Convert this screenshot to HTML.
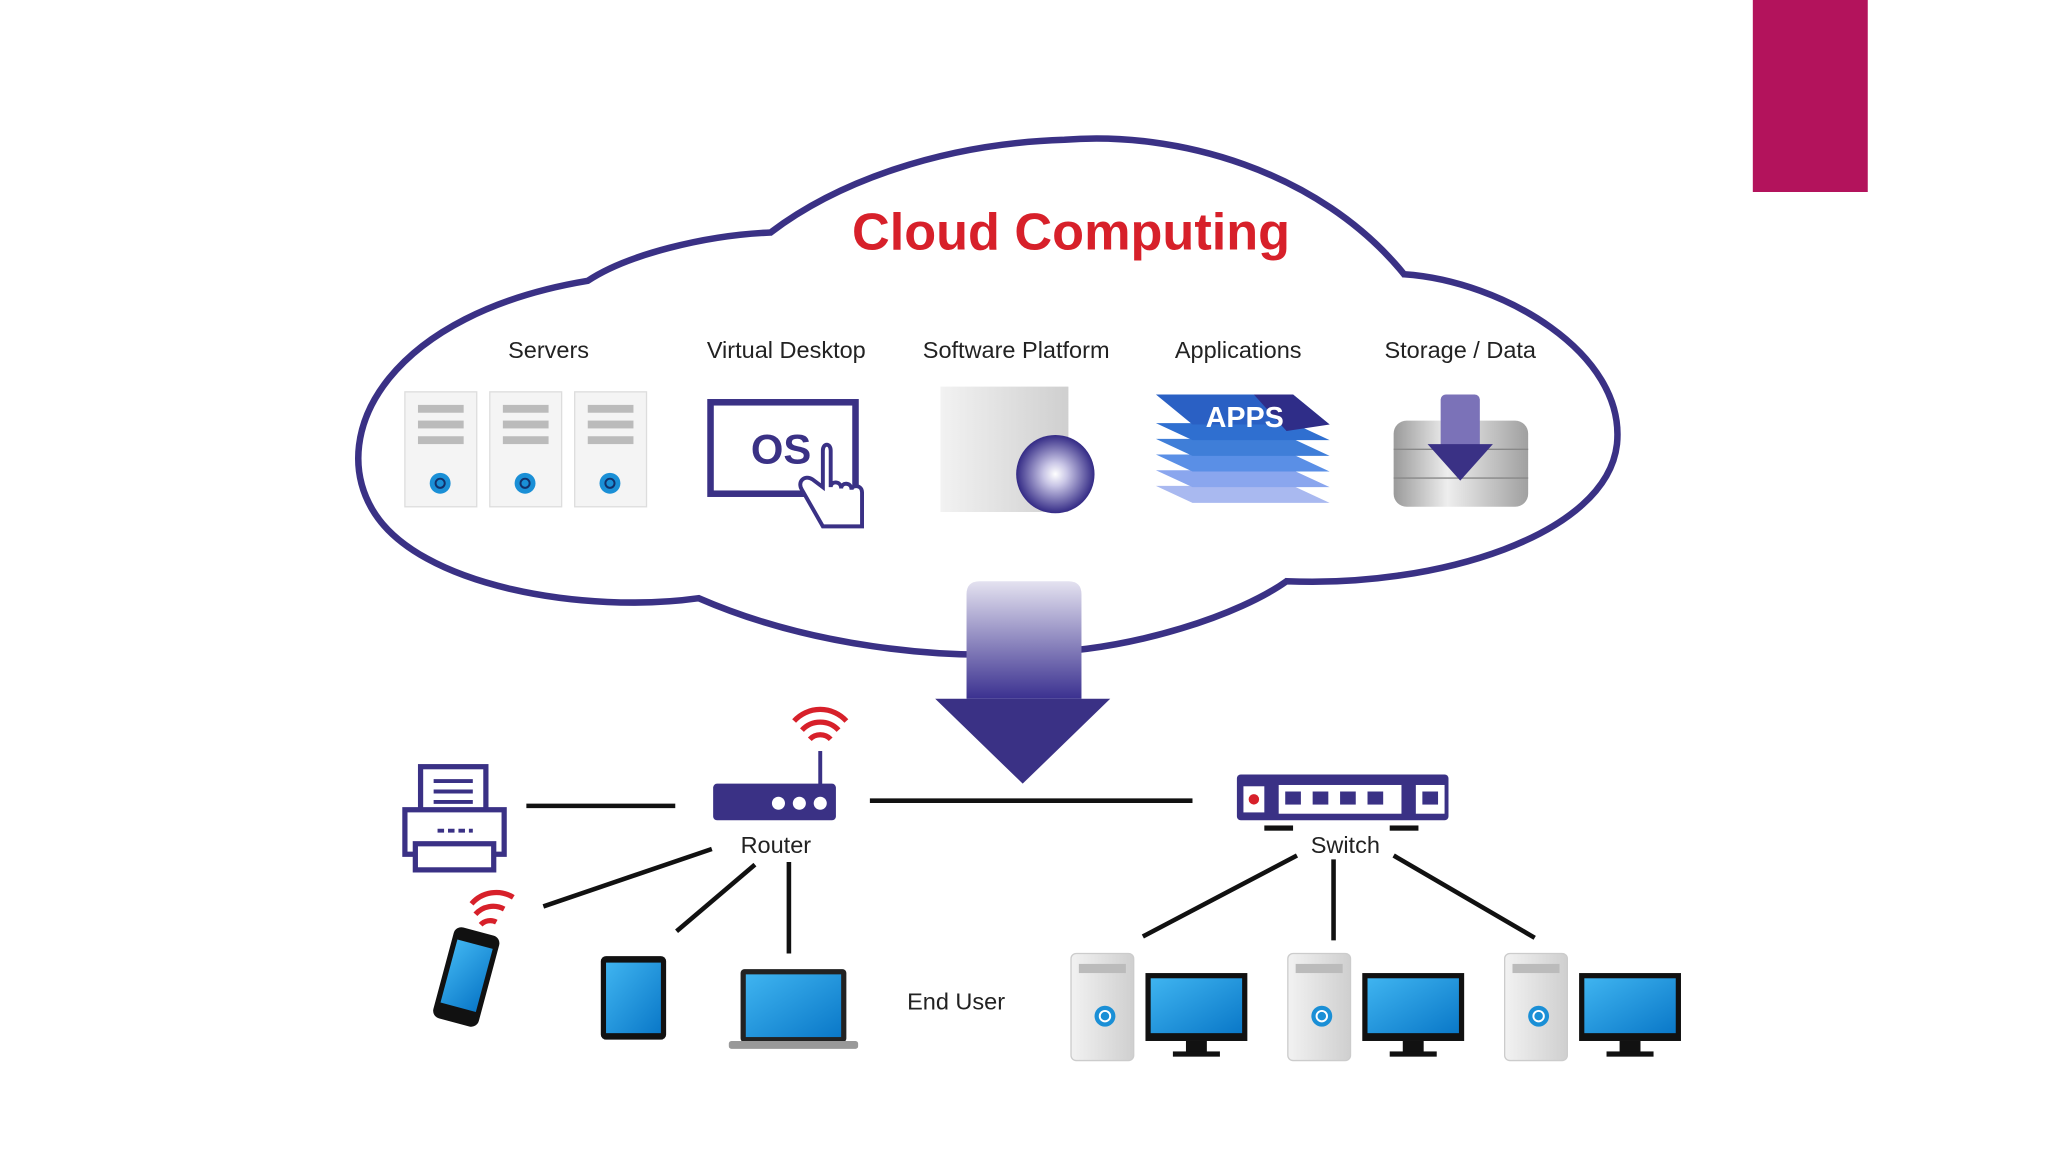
<!DOCTYPE html>
<html><head><meta charset="utf-8"><style>
html,body{margin:0;padding:0;background:#fff;width:2048px;height:1152px;overflow:hidden}
svg{display:block}
text{font-family:"Liberation Sans",sans-serif}
</style></head><body>
<svg width="2048" height="1152" viewBox="0 0 1568 882" xmlns="http://www.w3.org/2000/svg">
<defs>
<linearGradient id="ag" x1="0" y1="0" x2="0" y2="1"><stop offset="0" stop-color="#e4e2f0"/><stop offset="1" stop-color="#3b3190"/></linearGradient>
<linearGradient id="gb" x1="0" y1="0" x2="1" y2="0"><stop offset="0" stop-color="#f2f2f2"/><stop offset="1" stop-color="#cfcfcf"/></linearGradient>
<linearGradient id="cy" x1="0" y1="0" x2="1" y2="0"><stop offset="0" stop-color="#9a9a9a"/><stop offset=".4" stop-color="#eeeeee"/><stop offset="1" stop-color="#a0a0a0"/></linearGradient>
<radialGradient id="disc"><stop offset="0" stop-color="#fff"/><stop offset=".3" stop-color="#c9c6e6"/><stop offset="1" stop-color="#332a85"/></radialGradient>
<linearGradient id="scr" x1="0" y1="0" x2="1" y2="1"><stop offset="0" stop-color="#3fb4f0"/><stop offset="1" stop-color="#0a78c8"/></linearGradient>
<g id="pc">
<rect x="0" y="0" width="48" height="82" rx="4" fill="url(#gb)" stroke="#ccc"/>
<rect x="6" y="8" width="36" height="7" fill="#bbb"/>
<circle cx="26" cy="48" r="8" fill="#1a8fd6"/><circle cx="26" cy="48" r="4" fill="none" stroke="#fff" stroke-width="1.5"/>
<rect x="57" y="15" width="78" height="52" fill="#111"/>
<rect x="61" y="19" width="70" height="42" fill="url(#scr)"/>
<rect x="88" y="67" width="16" height="9" fill="#111"/><rect x="78" y="75" width="36" height="4" fill="#111"/>
</g>
<g id="srv">
<rect x="0" y="0" width="55" height="88" fill="#f4f4f4" stroke="#ddd"/>
<rect x="10" y="10" width="35" height="6" fill="#bbb"/><rect x="10" y="22" width="35" height="6" fill="#bbb"/><rect x="10" y="34" width="35" height="6" fill="#bbb"/>
<circle cx="27" cy="70" r="8" fill="#1a8fd6"/><circle cx="27" cy="70" r="3.5" fill="none" stroke="#12306a" stroke-width="1.5"/>
</g>
</defs>
<rect x="1342" y="0" width="88" height="147" fill="#b3135c"/>
<path d="M450,215 C300,240 250,330 285,390 C320,450 450,470 535,458 C620,495 720,505 790,500 C870,498 950,470 985,445 C1100,450 1230,410 1238,340 C1245,270 1150,215 1075,210 C1010,130 900,100 815,107 C720,110 640,140 590,178 C540,180 480,195 450,215 Z" fill="#fff" stroke="#3a3185" stroke-width="5"/>
<text x="820" y="191" text-anchor="middle" font-size="40" font-weight="bold" fill="#d7202a">Cloud Computing</text>
<g font-size="18" fill="#222" text-anchor="middle">
<text x="420" y="274">Servers</text><text x="602" y="274">Virtual Desktop</text><text x="778" y="274">Software Platform</text><text x="948" y="274">Applications</text><text x="1118" y="274">Storage / Data</text>
</g>
<use href="#srv" x="310" y="300"/><use href="#srv" x="375" y="300"/><use href="#srv" x="440" y="300"/>
<rect x="544" y="308" width="111" height="70" fill="#fff" stroke="#3a3185" stroke-width="5"/>
<text x="598" y="355" text-anchor="middle" font-size="32" font-weight="bold" fill="#3a3185">OS</text>
<path d="M630,345 v28 l-8,-6 c-6,-4 -12,2 -8,8 l16,28 h30 v-26 c0,-6 -8,-6 -8,-2 c0,-6 -8,-6 -8,-1 c0,-6 -8,-6 -8,-1 v-28 c0,-6 -6,-6 -6,0 z" fill="#fff" stroke="#3a3185" stroke-width="3"/>
<rect x="720" y="296" width="98" height="96" fill="url(#gb)"/>
<circle cx="808" cy="363" r="30" fill="url(#disc)"/>
<g>
<polygon points="885,372 990,372 1018,385 913,385" fill="#a9b9f0"/>
<polygon points="885,360 990,360 1018,373 913,373" fill="#8aa6ee"/>
<polygon points="885,348 990,348 1018,361 913,361" fill="#5a8fe6"/>
<polygon points="885,336 990,336 1018,349 913,349" fill="#3f7ed8"/>
<polygon points="885,324 990,324 1018,337 913,337" fill="#2f6fd0"/>
<polygon points="885,302 990,302 1018,325 913,325" fill="#2a60c4"/>
<polygon points="960,302 990,302 1018,325 985,330" fill="#2f2d88"/>
<text x="953" y="327" text-anchor="middle" font-size="22" font-weight="bold" fill="#fff">APPS</text>
</g>
<rect x="1067" y="322" width="103" height="66" rx="10" fill="url(#cy)"/>
<line x1="1067" y1="344" x2="1170" y2="344" stroke="#888"/><line x1="1067" y1="366" x2="1170" y2="366" stroke="#888"/>
<rect x="1103" y="302" width="30" height="42" rx="4" fill="#7b72b8"/>
<polygon points="1093,340 1143,340 1118,368" fill="#3a3185"/>
<path d="M740,455 q0,-10 10,-10 h68 q10,0 10,10 V535 H740 Z" fill="url(#ag)"/>
<polygon points="716,535 850,535 783,600" fill="#3a3185"/>
<g stroke="#111" stroke-width="3.5">
<line x1="403" y1="617" x2="517" y2="617"/><line x1="666" y1="613" x2="913" y2="613"/>
<line x1="545" y1="650" x2="416" y2="694"/><line x1="578" y1="662" x2="518" y2="713"/><line x1="604" y1="660" x2="604" y2="730"/>
<line x1="993" y1="655" x2="875" y2="717"/><line x1="1021" y1="658" x2="1021" y2="720"/><line x1="1067" y1="655" x2="1175" y2="718"/>
</g>
<line x1="628" y1="575" x2="628" y2="602" stroke="#3a3185" stroke-width="3"/>
<g fill="none" stroke="#d7202a" stroke-width="4">
<path d="M620,566 a11,11 0 0 1 16,0"/><path d="M614,559 a19,19 0 0 1 28,0"/><path d="M608,552 a27,27 0 0 1 40,0"/>
<path d="M368,708 a10,10 0 0 1 12,-2"/><path d="M364,700 a18,18 0 0 1 22,-4"/><path d="M361,692 a25,25 0 0 1 32,-5"/>
</g>
<rect x="546" y="600" width="94" height="28" rx="3" fill="#3a3185"/>
<circle cx="596" cy="615" r="5" fill="#fff"/><circle cx="612" cy="615" r="5" fill="#fff"/><circle cx="628" cy="615" r="5" fill="#fff"/>
<text x="594" y="653" text-anchor="middle" font-size="18" fill="#222">Router</text>
<rect x="947" y="593" width="162" height="35" rx="3" fill="#3a3185"/>
<rect x="952" y="602" width="16" height="20" fill="#fff"/><circle cx="960" cy="612" r="4" fill="#d7202a"/>
<rect x="979" y="601" width="94" height="22" fill="#fff"/><rect x="1084" y="601" width="22" height="22" fill="#fff"/>
<g fill="#3a3185"><rect x="984" y="606" width="12" height="10"/><rect x="1005" y="606" width="12" height="10"/><rect x="1026" y="606" width="12" height="10"/><rect x="1047" y="606" width="12" height="10"/><rect x="1089" y="606" width="12" height="10"/></g>
<rect x="968" y="632" width="22" height="4" fill="#111"/><rect x="1064" y="632" width="22" height="4" fill="#111"/>
<text x="1030" y="653" text-anchor="middle" font-size="18" fill="#222">Switch</text>
<g fill="#fff" stroke="#3a3185" stroke-width="4">
<rect x="322" y="587" width="50" height="36"/>
<path d="M310,620 h76 v34 h-76 z"/>
<rect x="318" y="646" width="60" height="20"/>
</g>
<g stroke="#3a3185" stroke-width="3"><line x1="332" y1="598" x2="362" y2="598"/><line x1="332" y1="606" x2="362" y2="606"/><line x1="332" y1="614" x2="362" y2="614"/><line x1="335" y1="636" x2="362" y2="636" stroke-dasharray="5,3"/></g>
<g transform="rotate(15 357 748)"><rect x="339" y="712" width="36" height="72" rx="6" fill="#111"/><rect x="343" y="722" width="28" height="50" fill="url(#scr)"/></g>
<rect x="460" y="732" width="50" height="64" rx="4" fill="#111"/><rect x="464" y="737" width="42" height="54" fill="url(#scr)"/>
<rect x="567" y="742" width="81" height="56" rx="3" fill="#222"/><rect x="571" y="746" width="73" height="48" fill="url(#scr)"/>
<rect x="558" y="797" width="99" height="6" rx="2" fill="#999"/>
<text x="732" y="773" text-anchor="middle" font-size="18" fill="#222">End User</text>
<use href="#pc" x="820" y="730"/><use href="#pc" x="986" y="730"/><use href="#pc" x="1152" y="730"/>
</svg>
</body></html>
